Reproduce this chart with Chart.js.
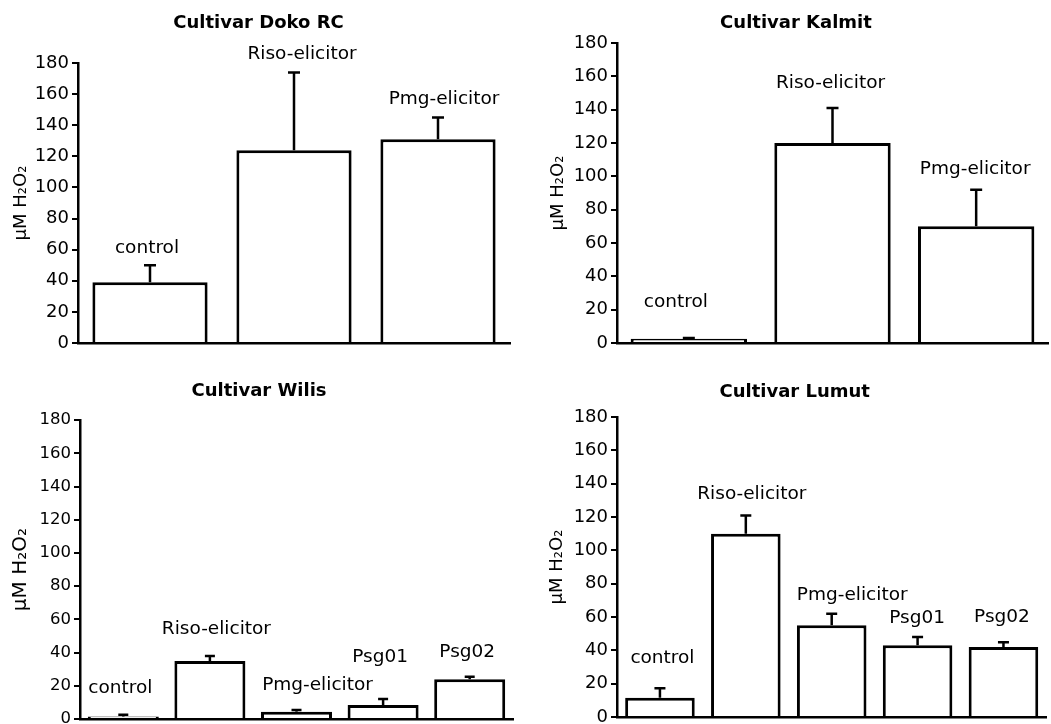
<!DOCTYPE html>
<html>
<head>
<meta charset="utf-8">
<script src="https://cdn.jsdelivr.net/npm/chart.js@4.4.1/dist/chart.umd.min.js"></script>
<style>
  body { margin: 0; background: #fff; }
  .panel { position: absolute; }
</style>
</head>
<body>
<div class="panel" style="left:0;top:0;width:520px;height:360px"><canvas id="doko"></canvas></div>
<div class="panel" style="left:520px;top:0;width:531px;height:360px"><canvas id="kalmit"></canvas></div>
<div class="panel" style="left:0;top:360px;width:520px;height:364px"><canvas id="wilis"></canvas></div>
<div class="panel" style="left:520px;top:360px;width:531px;height:364px"><canvas id="lumut"></canvas></div>
<script>
// categories
var treatments3 = ["control", "Riso-elicitor", "Pmg-elicitor"];
var treatments5 = ["control", "Riso-elicitor", "Pmg-elicitor", "Psg01", "Psg02"];
var yTicks = [0, 20, 40, 60, 80, 100, 120, 140, 160, 180];
var yLabel = "μM H₂O₂";

// means and upper error (µM H2O2)
var dokoMean = [39, 124, 131];
var dokoErr = [11, 50, 14];
var kalmitMean = [2.5, 120, 70];
var kalmitErr = [0.5, 21, 22];
var wilisMean = [1.5, 35, 4.4, 8.4, 24];
var wilisErr = [1, 3, 1, 3.6, 1.4];
var lumutMean = [11.6, 110, 55, 43, 42];
var lumutErr = [5.6, 11, 7, 5, 2.8];

Chart.defaults.font.family = "'DejaVu Sans', sans-serif";
Chart.defaults.color = '#000';

// draws the error bar and the treatment name above each bar
var barMarks = {
    id: 'barMarks',
    afterDatasetsDraw: function(chart, args, opt) {
        var ctx = chart.ctx;
        var ds = chart.data.datasets[0];
        var meta = chart.getDatasetMeta(0);
        var y = chart.scales.y;
        ctx.save();
        ctx.strokeStyle = '#000';
        ctx.fillStyle = '#000';
        ctx.lineWidth = 2.5;
        ctx.font = opt.labelSize + "px 'DejaVu Sans', sans-serif";
        ctx.textAlign = 'center';
        ctx.textBaseline = 'middle';
        meta.data.forEach(function(bar, i) {
            var top = y.getPixelForValue(ds.data[i] + ds.errors[i]);
            ctx.beginPath();
            ctx.moveTo(bar.x, bar.y);
            ctx.lineTo(bar.x, top);
            ctx.moveTo(bar.x - opt.cap / 2, top);
            ctx.lineTo(bar.x + opt.cap / 2, top);
            ctx.stroke();
            var s = opt.shifts[i];
            ctx.fillText(chart.data.labels[i], bar.x + s[0], top - s[1]);
        });
        ctx.restore();
    }
};

var panels = [
    { id: 'doko', title: 'Cultivar Doko RC', labels: treatments3, mean: dokoMean, err: dokoErr,
      pad: { left: 7, right: 10, top: 0, bottom: 17 }, axisW: 71, titlePad: { top: 12.5, bottom: 29 },
      tickSize: 18, yTitleSize: 18, barPct: 0.8, cap: 12,
      shifts: [[-3, 17], [8, 18], [6, 18]] },
    { id: 'kalmit', title: 'Cultivar Kalmit', labels: treatments3, mean: kalmitMean, err: kalmitErr,
      pad: { left: 24, right: 3, top: 0, bottom: 17 }, axisW: 73, titlePad: { top: 12.5, bottom: 9 },
      tickSize: 18, yTitleSize: 18, barPct: 0.81, cap: 12,
      shifts: [[-13, 36], [-2, 25], [-1, 21]] },
    { id: 'wilis', title: 'Cultivar Wilis', labels: treatments5, mean: wilisMean, err: wilisErr,
      pad: { left: 5, right: 7, top: 0, bottom: 5 }, axisW: 75, titlePad: { top: 20.3, bottom: 18.2 },
      tickSize: 16.5, yTitleSize: 20, barPct: 0.82, cap: 10,
      shifts: [[-3, 27], [6.5, 27], [21, 25], [-3, 42], [-2.5, 25]] },
    { id: 'lumut', title: 'Cultivar Lumut', labels: treatments5, mean: lumutMean, err: lumutErr,
      pad: { left: 23, right: 4.6, top: 0, bottom: 7 }, axisW: 74, titlePad: { top: 21.3, bottom: 14.2 },
      tickSize: 18, yTitleSize: 18, barPct: 0.81, cap: 11,
      shifts: [[2.5, 30], [6, 21], [20.5, 19], [-0.5, 19], [-1.5, 25]] }
];

panels.forEach(function(p) {
    var ctx = document.getElementById(p.id).getContext('2d');
    new Chart(ctx, {
        type: 'bar',
        data: {
            labels: p.labels,
            datasets: [{
                data: p.mean,
                errors: p.err,
                backgroundColor: '#fff',
                borderColor: '#000',
                borderWidth: 3,
                barPercentage: p.barPct,
                categoryPercentage: 1
            }]
        },
        plugins: [barMarks],
        options: {
            responsive: true,
            maintainAspectRatio: false,
            animation: false,
            devicePixelRatio: 1,
            layout: { padding: p.pad },
            plugins: {
                legend: { display: false },
                tooltip: { enabled: false },
                title: {
                    display: true,
                    text: p.title,
                    font: { size: 18, weight: 'bold' },
                    padding: p.titlePad
                },
                barMarks: { cap: p.cap, shifts: p.shifts, labelSize: 18.5 }
            },
            scales: {
                x: {
                    grid: { display: false },
                    ticks: { display: false },
                    border: { color: '#000', width: 2.5 },
                    afterFit: function(s) { s.height = 0; }
                },
                y: {
                    min: 0,
                    max: 180,
                    afterBuildTicks: function(s) {
                        s.ticks = yTicks.map(function(v) { return { value: v }; });
                    },
                    afterFit: function(s) {
                        s.width = p.axisW;
                        s.paddingTop = 0;
                        s.paddingBottom = 0;
                    },
                    ticks: { font: { size: p.tickSize }, padding: 3 },
                    grid: { drawOnChartArea: false, drawTicks: true, tickLength: 6, color: '#000', lineWidth: 2 },
                    border: { color: '#000', width: 2.5 },
                    title: { display: true, text: yLabel, font: { size: p.yTitleSize } }
                }
            }
        }
    });
});
</script>
</body>
</html>
